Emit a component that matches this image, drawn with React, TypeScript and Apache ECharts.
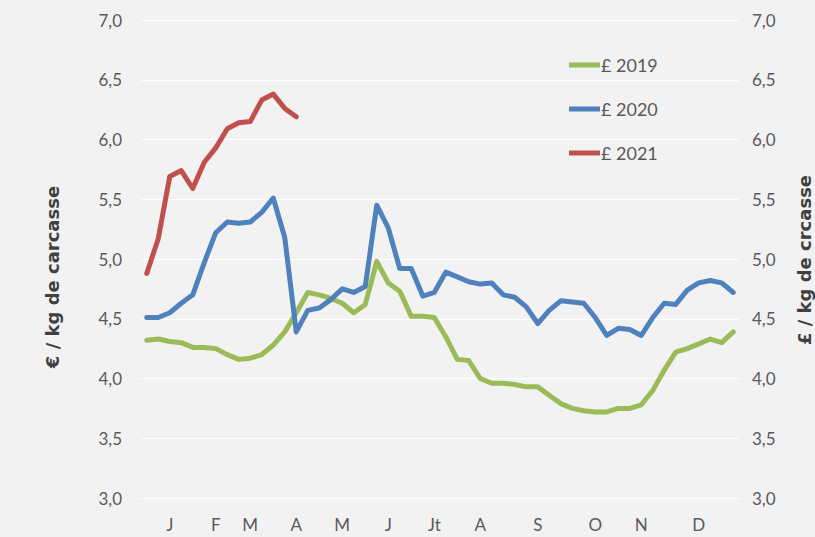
import React, { useEffect, useRef } from "react";
import * as echarts from "echarts";

const weeks: string[] = Array.from({ length: 52 }, (_, i) => String(i + 1));

const monthLabels = ["J", "F", "M", "A", "M", "J", "Jt", "A", "S", "O", "N", "D"];
const monthWeekIdx = [2, 6, 9, 13, 17, 21, 25, 29, 34, 39, 43, 48];

const yTicks = [3.0, 3.5, 4.0, 4.5, 5.0, 5.5, 6.0, 6.5, 7.0];

const s2019 = [
  4.32, 4.33, 4.31, 4.3, 4.26, 4.26, 4.25, 4.2, 4.16, 4.17,
  4.2, 4.28, 4.39, 4.55, 4.72, 4.7, 4.67, 4.63, 4.55, 4.62,
  4.98, 4.8, 4.73, 4.52, 4.52, 4.51, 4.35, 4.16, 4.15, 4.0,
  3.96, 3.96, 3.95, 3.93, 3.93, 3.86, 3.79, 3.75, 3.73, 3.72,
  3.72, 3.75, 3.75, 3.78, 3.9, 4.07, 4.22, 4.25, 4.29, 4.33,
  4.3, 4.39,
];

const s2020 = [
  4.51, 4.51, 4.55, 4.63, 4.7, 4.97, 5.22, 5.31, 5.3, 5.31,
  5.39, 5.51, 5.18, 4.39, 4.57, 4.59, 4.66, 4.75, 4.72, 4.77,
  5.45, 5.26, 4.92, 4.92, 4.69, 4.72, 4.89, 4.85, 4.81, 4.79,
  4.8, 4.7, 4.68, 4.6, 4.46, 4.57, 4.65, 4.64, 4.63, 4.51,
  4.36, 4.42, 4.41, 4.36, 4.51, 4.63, 4.62, 4.74, 4.8, 4.82,
  4.8, 4.72,
];

const s2021 = [4.88, 5.17, 5.69, 5.74, 5.59, 5.81, 5.93, 6.09, 6.14, 6.15, 6.33, 6.38, 6.26, 6.19];

const seriesNames = ["£ 2019", "£ 2020", "£ 2021"];
const colors = ["#9bbb59", "#4f81bd", "#c0504d"];

const FONT = "Lato, 'Noto Sans', sans-serif";
const TITLE_FONT = "'DejaVu Sans', sans-serif";

export default function App() {
  const ref = useRef<HTMLDivElement>(null);
  useEffect(() => {
    if (!ref.current) return;
    const chart = echarts.init(ref.current, undefined, { renderer: "svg" });
    const fmt = (v: number) => v.toFixed(1).replace(".", ",");
    const yMin = yTicks[0];
    const yMax = yTicks[yTicks.length - 1];
    const yStep = yTicks[1] - yTicks[0];
    chart.setOption({
      animation: false,
      backgroundColor: "#f2f2f2",
      color: colors,
      grid: { left: 141, right: 76, top: 20, bottom: 39, containLabel: false },
      legend: {
        orient: "vertical",
        left: 564,
        top: 51,
        itemWidth: 31,
        itemHeight: 5,
        itemGap: 26,
        icon: "rect",
        data: seriesNames,
        textStyle: { color: "#595959", fontSize: 18, fontFamily: FONT, padding: [0, 0, 0, -4] },
      },
      xAxis: {
        type: "category",
        data: weeks,
        boundaryGap: true,
        axisLine: { show: false },
        axisTick: { show: false },
        splitLine: { show: false },
        axisLabel: {
          interval: 0,
          margin: 18,
          color: "#595959",
          fontSize: 17,
          fontFamily: FONT,
          formatter: (_v: string, idx: number) => {
            const k = monthWeekIdx.indexOf(idx);
            return k >= 0 ? monthLabels[k] : "";
          },
        },
      },
      yAxis: [
        {
          type: "value",
          min: yMin,
          max: yMax,
          interval: yStep,
          position: "left",
          axisLine: { show: false },
          axisTick: { show: false },
          splitLine: { show: true, lineStyle: { color: "#ffffff", width: 1 } },
          axisLabel: { margin: 19, color: "#595959", fontSize: 17, fontFamily: FONT, formatter: fmt },
        },
        {
          type: "value",
          min: yMin,
          max: yMax,
          interval: yStep,
          position: "right",
          axisLine: { show: false },
          axisTick: { show: false },
          splitLine: { show: false },
          axisLabel: { margin: 13, color: "#595959", fontSize: 17, fontFamily: FONT, formatter: fmt },
        },
      ],
      graphic: [
        {
          type: "text",
          x: 52,
          y: 277,
          rotation: Math.PI / 2,
          style: {
            text: "€ / kg de carcasse",
            fill: "#404040",
            font: `bold 18px ${TITLE_FONT}`,
            textAlign: "center",
            textVerticalAlign: "middle",
          },
        },
        {
          type: "text",
          x: 804,
          y: 260,
          rotation: Math.PI / 2,
          style: {
            text: "£ / kg de crcasse",
            fill: "#404040",
            font: `bold 18px ${TITLE_FONT}`,
            textAlign: "center",
            textVerticalAlign: "middle",
          },
        },
      ],
      series: [s2019, s2020, s2021].map((d, i) => ({
        name: seriesNames[i],
        type: "line",
        data: d,
        showSymbol: false,
        symbol: "none",
        lineStyle: { width: 5, color: colors[i], join: "round", cap: "round" },
        itemStyle: { color: colors[i] },
      })),
    });
    return () => chart.dispose();
  }, []);
  return (
    <div
      ref={ref}
      style={{ position: "fixed", left: 0, top: 0, width: 815, height: 537 }}
    />
  );
}
